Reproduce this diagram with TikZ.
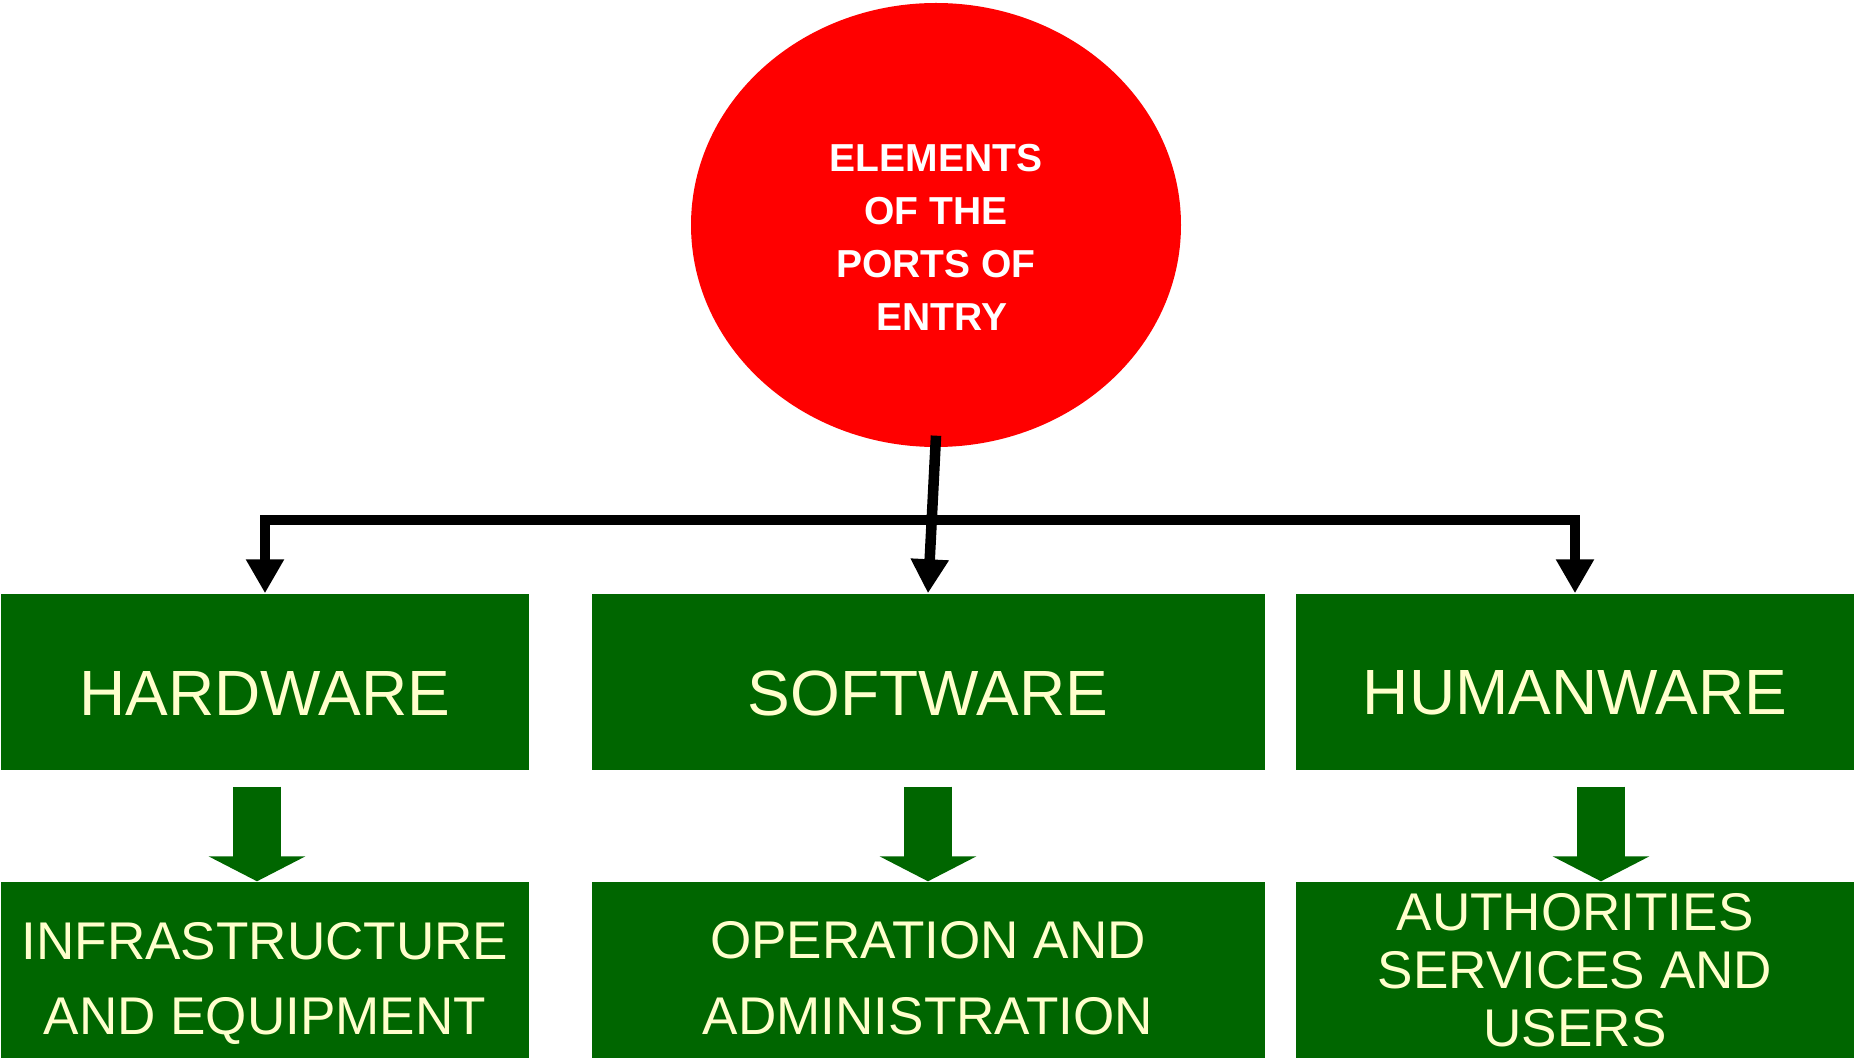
\documentclass[tikz,border=0pt]{standalone}
\usepackage{fontspec}
\setmainfont{Liberation Sans}
\usepackage{tikz}
\usetikzlibrary{arrows.meta,shapes.geometric}

\definecolor{portred}{RGB}{255,0,0}
\definecolor{boxgreen}{RGB}{0,102,0}
\definecolor{paleyellow}{RGB}{255,255,204}

\begin{document}
\begin{tikzpicture}[x=0.1mm,y=-0.1mm,
        box/.style={fill=boxgreen,inner sep=0pt,minimum height=17.6mm},
        boxtext/.style={text=paleyellow,align=center},
        link/.style={line width=3pt,-{Triangle[width=3.6mm,length=3.4mm]}},
        block/.style={boxgreen,line width=4.8mm,-{Triangle[width=9.6mm,length=2.5mm]}}]
            \useasboundingbox (0,0) rectangle (1854,1059);

            \node[ellipse,fill=portred,minimum width=49mm,minimum height=44.4mm,inner sep=0pt,
                label={[yshift=-1.2mm,text=white,align=center,font=\fontsize{11.1}{15.1}\selectfont\bfseries]
                center:ELEMENTS\\OF THE\\PORTS OF\\\hspace*{1.2mm}ENTRY}]
                (top) at (936,225) {};

            \begin{scope}[big/.style={font=\fontsize{18.2}{22}\selectfont}]
                \node[box,minimum width=52.8mm,label={[boxtext,big,yshift=-1.1mm]center:HARDWARE}] (hw) at (265,682) {};
                \node[box,minimum width=67.3mm,label={[boxtext,big,yshift=-1.1mm]center:SOFTWARE}] (sw) at (928,682) {};
                \node[box,minimum width=55.8mm,label={[boxtext,big,yshift=-1.1mm]center:HUMANWARE}] (hu) at (1575,682) {};
            \end{scope}

            \begin{scope}[small/.style={font=\fontsize{15.1}{21.6}\selectfont}]
                \node[box,minimum width=52.8mm,label={[boxtext,small,yshift=-1.35mm]center:INFRASTRUCTURE\\AND EQUIPMENT}] (hw2) at (265,970) {};
                \node[box,minimum width=67.3mm,label={[boxtext,small,yshift=-0.8mm]center:OPERATION AND\\ADMINISTRATION}] (sw2) at (928,970) {};
                \node[box,minimum width=55.8mm,label={[boxtext,font=\fontsize{15.1}{16.5}\selectfont]center:AUTHORITIES\\SERVICES AND\\USERS}] (hu2) at (1575,970) {};
            \end{scope}

            \begin{scope}
                \coordinate (bar) at (929,520);
                \draw[link] ([yshift=1.2mm]top.south) -- (sw.north);
                \draw[link] (bar) -| (hw.north);
                \draw[link] (bar) -| (hu.north);
                \draw[block] ([xshift=-0.8mm,yshift=-1.6mm]hw.south) -- ([xshift=-0.8mm]hw2.north);
                \draw[block] ([yshift=-1.6mm]sw.south) -- (sw2.north);
                \draw[block] ([xshift=2.6mm,yshift=-1.6mm]hu.south) -- ([xshift=2.6mm]hu2.north);
            \end{scope}
\end{tikzpicture}
\end{document}
